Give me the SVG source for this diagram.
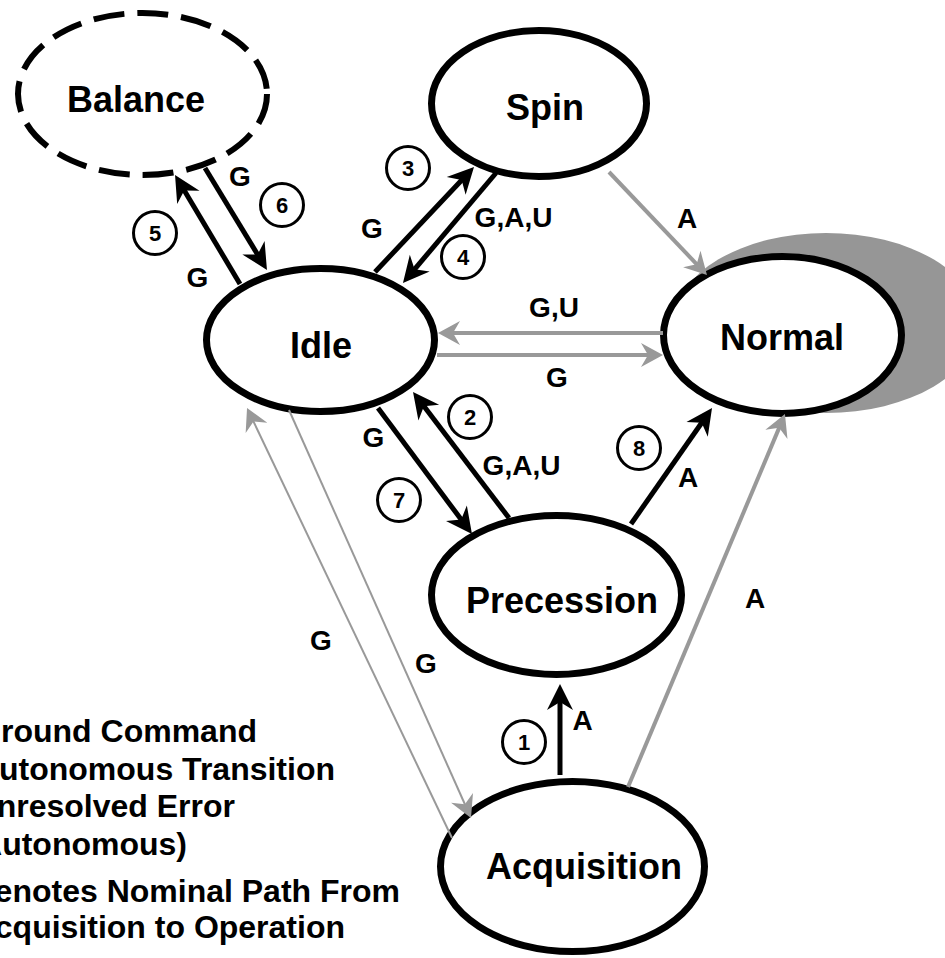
<svg xmlns="http://www.w3.org/2000/svg" width="945" height="958" viewBox="0 0 945 958">
<style>
text{font-family:"Liberation Sans",Arial,sans-serif;font-weight:bold;fill:#000}
.node{fill:#fff;stroke:#000;stroke-width:7}
.lbl{font-size:36px;text-anchor:middle}
.el{font-size:28px;text-anchor:middle}
.num circle{fill:#fff;stroke:#000;stroke-width:3}
.num text{font-size:22px;text-anchor:middle}
.blk{stroke:#000;stroke-width:5;fill:none;marker-end:url(#ah)}
.gry{stroke:#999;stroke-width:4;fill:none;marker-end:url(#gh)}
.gryt{stroke:#999;stroke-width:2;fill:none;marker-end:url(#gh)}
.leg{font-size:32px;text-anchor:end}
</style>
<defs>
<marker id="ah" viewBox="-30 -16 32 32" markerWidth="32" markerHeight="32" refX="-14" refY="0" orient="auto" markerUnits="userSpaceOnUse"><path d="M0,0 L-26,-13 L-18,0 L-26,13 Z" fill="#000"/></marker>
<marker id="gh" viewBox="-26 -14 28 28" markerWidth="28" markerHeight="28" refX="-12" refY="0" orient="auto" markerUnits="userSpaceOnUse"><path d="M0,0 L-22,-12 L-15,0 L-22,12 Z" fill="#999"/></marker>
</defs>

<ellipse id="normal-shadow" cx="826" cy="323" rx="152" ry="90" fill="#969696"/>

<g id="balance"><ellipse cx="142.5" cy="94" rx="124.5" ry="81" fill="#fff" stroke="#000" stroke-width="6" stroke-dasharray="31 13"/><text class="lbl" x="136" y="112">Balance</text></g>
<g id="spin"><ellipse class="node" cx="539" cy="103.5" rx="107.5" ry="73"/><text class="lbl" x="545" y="120">Spin</text></g>
<g id="normal"><ellipse class="node" cx="782.5" cy="335" rx="119" ry="78.5"/><text class="lbl" x="782" y="350">Normal</text></g>
<g id="idle"><ellipse class="node" cx="320.5" cy="340" rx="114" ry="71.5"/><text class="lbl" x="321" y="358">Idle</text></g>
<g id="precession"><ellipse class="node" cx="556.5" cy="595" rx="125" ry="79.5"/><text class="lbl" x="562" y="613">Precession</text></g>
<g id="acquisition"><ellipse class="node" cx="572.5" cy="866.5" rx="132" ry="85"/><text class="lbl" x="584" y="879">Acquisition</text></g>

<g id="connectors">
<path class="blk" d="M240,284 L182.2,187"/>
<path class="blk" d="M205,168 L259.7,258"/>
<path class="blk" d="M375,272 L464.4,177.2"/>
<path class="blk" d="M496,173 L412,272.3"/>
<path class="blk" d="M378,408 L463.6,522.8"/>
<path class="blk" d="M509,518 L421.5,403.1"/>
<path class="blk" d="M631,524 L704,419.5"/>
<path class="blk" d="M560,775 L560,698"/>
<path class="gry" d="M609,172 L698.7,266.3"/>
<path class="gry" d="M663,333 L450,333"/>
<path class="gry" d="M437,355 L651,355"/>
<path class="gry" d="M628,787 L780.3,425.1"/>
<path class="gryt" d="M452,838 L252.2,418.8"/>
<path class="gryt" d="M289,410 L466.1,807"/>

<text class="el" x="240" y="186">G</text>
<text class="el" x="197.5" y="287">G</text>
<text class="el" x="372" y="238">G</text>
<text class="el" x="513.5" y="227">G,A,U</text>
<text class="el" x="687" y="228">A</text>
<text class="el" x="554" y="317">G,U</text>
<text class="el" x="557" y="387">G</text>
<text class="el" x="373.5" y="447">G</text>
<text class="el" x="521.5" y="475">G,A,U</text>
<text class="el" x="688" y="487">A</text>
<text class="el" x="755" y="608">A</text>
<text class="el" x="582.5" y="730">A</text>
<text class="el" x="321" y="650">G</text>
<text class="el" x="426" y="673">G</text>

<g class="num"><circle cx="155" cy="233" r="21.5"/><text x="155" y="241">5</text></g>
<g class="num"><circle cx="282" cy="205" r="21.5"/><text x="282" y="213">6</text></g>
<g class="num"><circle cx="408" cy="168" r="21.5"/><text x="408" y="176">3</text></g>
<g class="num"><circle cx="463" cy="257" r="21.5"/><text x="463" y="265">4</text></g>
<g class="num"><circle cx="470" cy="417" r="21.5"/><text x="470" y="425">2</text></g>
<g class="num"><circle cx="399" cy="500" r="21.5"/><text x="399" y="508">7</text></g>
<g class="num"><circle cx="639" cy="448" r="21.5"/><text x="639" y="456">8</text></g>
<g class="num"><circle cx="524" cy="742" r="21.5"/><text x="524" y="750">1</text></g>
</g>

<g id="legend">
<text class="leg" x="257" y="742">round Command</text>
<text class="leg" x="335" y="780">utonomous Transition</text>
<text class="leg" x="235" y="817">nresolved Error</text>
<text class="leg" x="187" y="855">Autonomous)</text>
<text class="leg" x="400" y="902">enotes Nominal Path From</text>
<text class="leg" x="345" y="938">cquisition to Operation</text>
</g>
</svg>
